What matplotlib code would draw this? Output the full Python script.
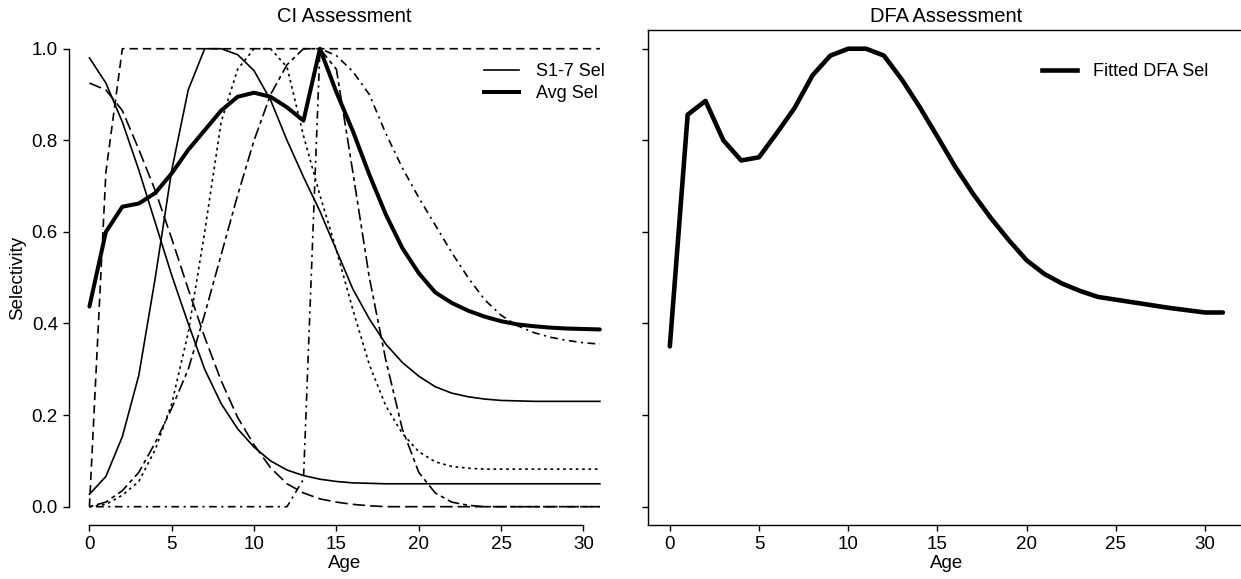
import matplotlib
matplotlib.use("Agg")
import matplotlib.pyplot as plt

plt.rcParams['font.family'] = ['Liberation Sans', 'DejaVu Sans']

ages = list(range(32))

# CI assessment, seven selectivity curves (S1-S7) plus the average
sel_s1 = [0.98, 0.925, 0.84, 0.735, 0.62, 0.505, 0.40, 0.30, 0.225, 0.17,
          0.13, 0.10, 0.08, 0.068, 0.06, 0.055, 0.052, 0.051] + [0.05] * 14
sel_s2 = [0.0, 0.73] + [1.0] * 30
sel_s3 = [0.0, 0.005, 0.025, 0.055, 0.125, 0.225, 0.38, 0.60, 0.84, 0.955,
          1.0, 1.0, 0.96, 0.81, 0.68, 0.56, 0.43, 0.31, 0.22, 0.16,
          0.12, 0.098, 0.088, 0.084, 0.082] + [0.082] * 7
sel_s4 = [0.0] * 13 + [0.06, 1.0, 0.985, 0.95, 0.90, 0.815, 0.74, 0.675, 0.615,
                       0.555, 0.50, 0.452, 0.418, 0.395, 0.38, 0.37, 0.363, 0.358, 0.355]
sel_s5 = [0.925, 0.91, 0.865, 0.78, 0.69, 0.585, 0.475, 0.37, 0.275, 0.195,
          0.135, 0.085, 0.05, 0.03, 0.017, 0.01, 0.005, 0.002] + [0.0] * 14
sel_s6 = [0.0, 0.01, 0.035, 0.075, 0.14, 0.215, 0.30, 0.42, 0.55, 0.68,
          0.80, 0.90, 0.965, 1.0, 1.0, 0.955, 0.73, 0.50, 0.32, 0.17,
          0.075, 0.03, 0.01, 0.003] + [0.0] * 8
sel_s7 = [0.027, 0.066, 0.153, 0.287, 0.50, 0.735, 0.91, 1.0, 1.0, 0.987,
          0.952, 0.888, 0.80, 0.72, 0.645, 0.56, 0.475, 0.41, 0.355, 0.315,
          0.285, 0.262, 0.248, 0.24, 0.235, 0.232, 0.231] + [0.23] * 5
avg_sel = [0.437, 0.60, 0.655, 0.662, 0.685, 0.728, 0.779, 0.822, 0.865, 0.895,
           0.904, 0.895, 0.872, 0.843, 1.0, 0.905, 0.82, 0.725, 0.638, 0.565,
           0.51, 0.468, 0.445, 0.428, 0.415, 0.405, 0.398, 0.394, 0.391, 0.389,
           0.388, 0.387]

# DFA assessment
dfa_sel = [0.35, 0.856, 0.886, 0.80, 0.756, 0.763, 0.816, 0.871, 0.942, 0.985,
           1.0, 1.0, 0.985, 0.933, 0.873, 0.808, 0.742, 0.683, 0.63, 0.582,
           0.538, 0.508, 0.487, 0.471, 0.458, 0.452, 0.446, 0.44, 0.434, 0.429,
           0.424, 0.424]

yticks = [0.0, 0.2, 0.4, 0.6, 0.8, 1.0]
xticks = [0, 5, 10, 15, 20, 25, 30]

# R style line types (lty 1..6, then 7 wraps to solid)
ltys = [None, (5, 3), (1.6, 2.2), (1.3, 2.7, 4.6, 2.7), (7.5, 3),
        (2.4, 2.4, 7.2, 2.4), None]
curves = [sel_s1, sel_s2, sel_s3, sel_s4, sel_s5, sel_s6, sel_s7]

W, H = 1241, 579
fig = plt.figure(figsize=(W / 100, H / 100), dpi=100)
ax1 = fig.add_axes([69 / W, (H - 525) / H, (620.3 - 69) / W, (525 - 30.4) / H])
ax2 = fig.add_axes([647.7 / W, (H - 525) / H, (1245 - 647.7) / W, (525 - 30.4) / H])

thin = 1.2
for vals, dash in zip(curves, ltys):
    ln, = ax1.plot(ages, vals, color='black', lw=thin, solid_joinstyle='round')
    if dash is not None:
        ln.set_dashes(dash)
ax1.plot(ages, avg_sel, color='black', lw=2.9, solid_joinstyle='round',
         solid_capstyle='round')

ax2.plot(ages, dfa_sel, color='black', lw=3.3, solid_joinstyle='round',
         solid_capstyle='round')

for ax in (ax1, ax2):
    ax.set_xlim(-1.24, 32.24)
    ax.set_ylim(-0.04, 1.04)
    ax.set_xticks(xticks)
    ax.set_yticks(yticks)
    ax.tick_params(direction='out', length=4, width=1, labelsize=13.5, pad=4,
                   color='black')
    for sp in ax.spines.values():
        sp.set_linewidth(1.0)
    ax.set_xlabel('Age', fontsize=13.5, labelpad=1.5)

ax1.set_yticklabels(['%.1f' % v for v in yticks])
ax1.spines['top'].set_visible(False)
ax1.spines['right'].set_visible(False)
ax1.spines['left'].set_bounds(0, 1)
ax1.spines['bottom'].set_bounds(0, 30)
ax1.set_ylabel('Selectivity', fontsize=13.5, labelpad=4)
ax2.set_yticklabels([])

ax1.set_title('CI Assessment', fontsize=14.5, pad=6)
ax2.set_title('DFA Assessment', fontsize=14.5, pad=6)

h1 = plt.Line2D([], [], color='black', lw=thin)
h2 = plt.Line2D([], [], color='black', lw=2.9)
ax1.legend([h1, h2], ['S1-7 Sel', 'Avg Sel'], loc='upper left',
           bbox_to_anchor=(0.753, 0.934), frameon=False, fontsize=13,
           handlelength=1.95, handletextpad=0.9, labelspacing=0.3,
           borderpad=0, borderaxespad=0)
h3 = plt.Line2D([], [], color='black', lw=3.3)
ax2.legend([h3], ['Fitted DFA Sel'], loc='upper left',
           bbox_to_anchor=(0.660, 0.934), frameon=False, fontsize=13,
           handlelength=1.95, handletextpad=0.9, borderpad=0, borderaxespad=0)

fig.savefig('out.png', dpi=100)
